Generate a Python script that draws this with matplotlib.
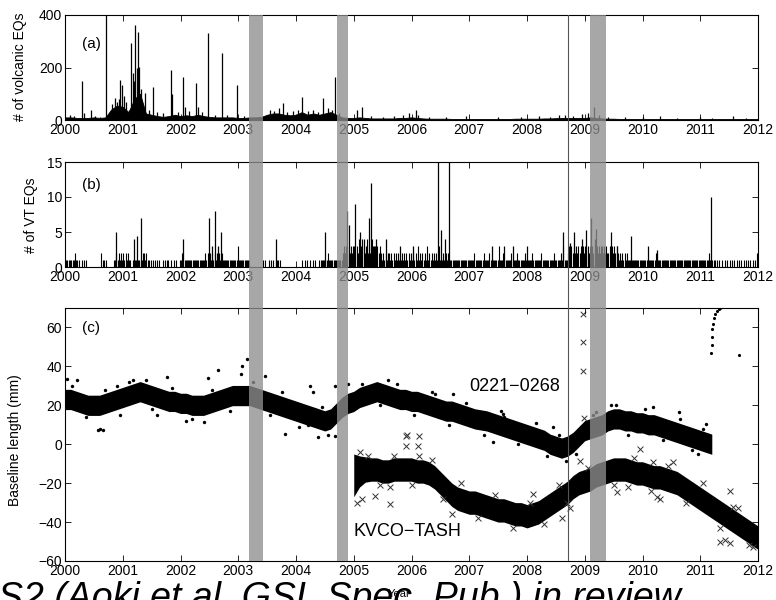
import numpy as np
import matplotlib
matplotlib.use("Agg")
import matplotlib.pyplot as plt

plt.rcParams['font.family'] = ['Liberation Sans', 'DejaVu Sans']
plt.rcParams['axes.linewidth'] = 0.8

# ---------------- data ----------------
YEARS = list(range(2000, 2013))
year_labels = [str(y) for y in YEARS]

shade_start = [2003.19, 2004.71, 2009.09]
shade_end = [2003.43, 2004.90, 2009.37]
event_year = 2008.71

# (a) volcanic earthquakes: background level every 0.1 yr + individual spikes
volc_level_start = 2000.0
volc_level_step = 0.1
volc_level = [10, 10, 8, 8, 8, 10, 8, 10, 40, 55,
              50, 30, 80, 100, 25, 20, 15, 12, 15, 20,
              15, 18, 15, 20, 15, 12, 10, 10, 10, 10,
              8, 8, 10, 10, 12, 20, 25, 25, 20, 18,
              20, 30, 20, 25, 20, 25, 30, 20, 10, 8,
              8, 10, 8, 6, 6, 6, 6, 6, 8, 8,
              10, 8, 6, 5, 5, 5, 5, 4, 4, 4,
              4, 4, 4, 4, 4, 4, 4, 4, 5, 5,
              5, 5, 5, 6, 6, 7, 8, 8, 8, 8,
              8, 10, 8, 6, 5, 5, 4, 4, 4, 4,
              4, 4, 4, 4, 4, 4, 4, 4, 4, 4,
              4, 4, 4, 4, 4, 4, 4, 4, 4, 4,
              4]
volc_spike_t = [2000.08, 2000.15, 2000.29, 2000.33, 2000.45, 2000.52, 2000.60, 2000.71,
                2000.78, 2000.82, 2000.86, 2000.90, 2000.93, 2000.96, 2000.99, 2001.02,
                2001.06, 2001.10, 2001.15, 2001.17, 2001.20, 2001.22, 2001.25, 2001.27,
                2001.29, 2001.31, 2001.34, 2001.39, 2001.45, 2001.52, 2001.60, 2001.70,
                2001.83, 2001.86, 2001.95, 2002.04, 2002.08, 2002.15, 2002.27, 2002.30,
                2002.38, 2002.48, 2002.60, 2002.71, 2002.80, 2002.97, 2003.10, 2003.55,
                2003.62, 2003.70, 2003.77, 2003.85, 2003.95, 2004.03, 2004.10, 2004.20,
                2004.30, 2004.38, 2004.47, 2004.55, 2004.62, 2004.68, 2004.75, 2005.05,
                2005.14, 2005.30, 2005.50, 2005.70, 2005.85, 2005.95, 2006.08, 2006.12,
                2006.30, 2006.60, 2006.95, 2007.50, 2007.90, 2008.20, 2008.40, 2008.55,
                2008.65, 2008.80, 2008.95, 2009.05, 2009.16, 2009.25, 2009.40, 2009.70,
                2010.00, 2010.30, 2010.60, 2011.00, 2011.20, 2011.56, 2011.80]
volc_spike_n = [20, 15, 150, 25, 38, 15, 12, 400,
                30, 60, 82, 70, 80, 152, 133, 90,
                70, 40, 292, 178, 150, 362, 200, 336,
                203, 120, 60, 102, 40, 127, 30, 25,
                190, 100, 30, 165, 50, 35, 140, 50,
                30, 330, 20, 254, 20, 133, 15, 40,
                35, 45, 63, 30, 35, 40, 89, 35,
                40, 30, 82, 45, 40, 165, 25, 38,
                50, 15, 12, 15, 20, 25, 38, 20,
                12, 10, 15, 10, 12, 15, 12, 20,
                18, 15, 22, 25, 50, 20, 12, 10,
                12, 15, 8, 10, 8, 15, 8]

# (b) VT earthquakes: counts in 50 slots per year (2000-2011) + larger spikes
vt_slots_per_year = 50
vt_counts_by_year = [
    "1101111121" "1010101010" "0000000000" "0211010000" "0011212121",  # 2000
    "2121211010" "1111111221" "2110101101" "0100101011" "0100101001",  # 2001
    "1201111111" "1111111111" "1212121212" "1212121111" "1111111113",  # 2002
    "1111111111" "0000000000" "0101001010" "1011101000" "0000000000",  # 2003
    "0000010101" "0010101001" "0111111211" "1111111111" "2323232323",  # 2004
    "3232423432" "3423243332" "3232121212" "2121212121" "1212121212",  # 2005
    "1212131212" "1213121212" "1213111212" "1211111111" "1111111111",  # 2006
    "1111211111" "1121111211" "1111131112" "1111112111" "1211111121",  # 2007
    "1111211111" "1121111111" "1112111112" "1311123232" "3232323232",  # 2008
    "3232323232" "3232323232" "2323232321" "2121212111" "1111111111",  # 2009
    "1111111111" "1211111111" "1111111111" "1111111111" "1111111111",  # 2010
    "1111111211" "1110101010" "0101010101" "0101010101" "0101010102",  # 2011
]
vt_spike_t = [2000.88, 2001.20, 2001.25, 2001.32, 2002.05, 2002.50, 2002.55, 2002.60,
              2002.65, 2002.70, 2003.65, 2004.50, 2004.88, 2004.92, 2005.02, 2005.10,
              2005.18, 2005.26, 2005.30, 2005.38, 2005.55, 2005.80, 2006.02, 2006.46,
              2006.51, 2006.58, 2006.65, 2007.40, 2007.60, 2007.75, 2008.00, 2008.62,
              2008.75, 2008.82, 2008.95, 2009.02, 2009.10, 2009.17, 2009.20, 2009.30,
              2009.45, 2009.55, 2009.80, 2010.10, 2010.25, 2011.19]
vt_spike_n = [5, 4, 4.5, 7, 4, 7, 3, 8,
              3, 5, 4, 5, 8, 6, 9, 5,
              4, 7, 12, 4, 4, 3, 3, 15,
              5.3, 4, 15, 3, 3, 3, 3, 5,
              3.5, 5, 4, 5.3, 7, 4, 5.5, 3,
              5, 3, 4.5, 3, 2.5, 10]

# (c) baseline lengths, every 0.1 yr
bl_a_start = 2000.0
bl_a_center = [23, 23, 22, 21, 20, 20, 20, 21, 22, 23,
               24, 25, 26, 27, 26, 25, 24, 23, 22, 22,
               21, 21, 20, 20, 20, 21, 22, 23, 24, 25,
               25, 25, 25, 24, 23, 22, 21, 20, 19, 18,
               17, 16, 15, 14, 13, 12, 13, 16, 19, 21,
               22, 24, 25, 26, 27, 26, 25, 24, 23, 23,
               22, 22, 21, 20, 19, 18, 17, 17, 16, 15,
               14, 13, 12.5, 12, 11, 10, 9, 8, 7, 6,
               5, 4, 3, 2, 0, -1, -2, -1, 1, 4,
               7, 8, 9, 10, 12, 13, 13, 12, 12, 11,
               11, 10, 10, 9, 8, 7, 6, 5, 4, 3,
               2, 1, 0]
bl_a_half = 5.2
bl_a_out_t = [2000.03, 2000.20, 2000.60, 2000.58, 2000.65, 2001.40, 2001.60, 2001.76,
              2002.40, 2002.47, 2002.65, 2003.05, 2003.07, 2003.15, 2003.46, 2003.81,
              2004.21, 2004.25, 2004.30, 2004.38, 2004.68, 2004.68, 2004.90, 2006.72,
              2007.41, 2007.58, 2007.60, 2008.45, 2008.68, 2009.20, 2009.54, 2010.18,
              2010.63, 2010.96, 2011.10, 2000.90, 2001.10, 2002.10, 2005.60, 2006.40,
              2000.12, 2000.37, 2000.70, 2000.95, 2001.18, 2001.50, 2001.85, 2002.20,
              2002.55, 2002.85, 2003.25, 2003.55, 2003.75, 2004.05, 2004.45, 2004.55,
              2005.15, 2005.45, 2005.75, 2006.05, 2006.35, 2006.65, 2006.95, 2007.25,
              2007.55, 2007.85, 2008.15, 2008.35, 2008.55, 2008.85, 2009.15, 2009.45,
              2009.75, 2010.05, 2010.35, 2010.65, 2010.85, 2011.05]
bl_a_out_y = [33.7, 33, 8, 7.4, 7.4, 33, 15, 34.7,
              11.5, 34, 38, 36, 40, 44, 35, 5.4,
              10, 30, 27, 3.5, 4, 30, 31, 26,
              1.2, 15.7, 14, 9, -8.6, 16.7, 20, 19,
              16.7, -5, 10.5, 30, 32, 12, 33, 26,
              30, 14, 28, 15, 33, 18, 29, 13,
              28, 17, 32, 15, 27, 9, 19, 5,
              31, 20, 31, 15, 27, 10, 21, 5,
              17, 0, 11, -6, 5, -5, 15, 20,
              5, 18, 2, 13, -3, 8]
bl_a_jump_t = [2011.19, 2011.195, 2011.20, 2011.21, 2011.22, 2011.24, 2011.26, 2011.29,
               2011.32, 2011.35, 2011.67]
bl_a_jump_y = [47, 51, 55, 59, 62, 65, 67, 68.5, 69.5, 70, 46]
bl_a_x_t = [2008.97, 2008.97, 2008.97, 2008.99]
bl_a_x_y = [67, 52.6, 37.4, 13.7]

bl_b_start = 2005.0
bl_b_center = [-16, -14, -13, -13, -13, -14, -14, -13, -13, -13,
               -13, -14, -14, -15, -17, -20, -23, -26, -28, -29,
               -30, -30, -31, -32, -33, -34, -34, -35, -36, -36,
               -37, -36, -35, -33, -31, -29, -27, -25, -22, -20,
               -19, -18, -16, -15, -14, -13, -13, -13, -14, -15,
               -15, -16, -17, -17, -18, -19, -20, -22, -24, -26,
               -28, -30, -32, -34, -36, -38, -40, -42, -44, -46,
               -48]
bl_b_half = [11, 8, 6.5, 6, 6, 6, 6, 6, 6, 6,
             6, 6, 6, 6, 6, 6, 6, 6, 6, 6,
             6, 6, 6, 6, 6, 6, 6, 6, 6, 6,
             6, 6, 6, 6, 6, 6, 6, 6, 6, 6,
             6, 6, 6, 6, 6, 6, 6, 6, 6, 6,
             6, 6, 6, 6, 6, 6, 6, 6, 6, 6,
             6, 6, 6, 6, 6, 6, 6, 6, 6, 6,
             6]
bl_b_x_t = [2005.90, 2005.92, 2005.90, 2006.13, 2006.11, 2006.13, 2005.63, 2005.63,
            2005.37, 2005.14, 2006.70, 2008.10, 2008.92, 2009.96, 2010.18, 2010.53,
            2011.52, 2011.57, 2011.34, 2011.43, 2011.52, 2011.92, 2009.55, 2009.75,
            2010.25, 2010.30, 2005.05, 2005.10, 2008.60, 2008.70,
            2005.25, 2005.45, 2005.70, 2006.00, 2006.35, 2006.55, 2006.85, 2007.15,
            2007.45, 2007.75, 2008.05, 2008.30, 2008.55, 2008.75, 2009.05, 2009.50,
            2009.85, 2010.15, 2010.45, 2010.75, 2011.05, 2011.35, 2011.65, 2011.85]
bl_b_x_y = [4, 5, -1, 4, -1, -6, -22, -30.7,
            -26.6, -28, -36, -25.6, -8.5, -2.4, -9, -9,
            -24, -32, -50, -49, -51, -53, -24.5, -22,
            -27, -28, -30, -4, -38, -30,
            -6, -21, -6, -21, -8, -28, -20, -38,
            -26, -43, -30, -41, -21, -33, -12, -21,
            -7, -24, -11, -30, -20, -43, -33, -52]

big_caption = "S2 (Aoki et al. GSL Spec. Pub.) in review"

# ---------------- figure ----------------
fig = plt.figure(figsize=(7.76, 6.0), dpi=100)
W, H = 776.0, 600.0
L, R = 65, 758


def add_ax(top, bottom):
    return fig.add_axes([L / W, 1 - bottom / H, (R - L) / W, (bottom - top) / H])


def style(ax):
    ax.set_xlim(2000, 2012)
    ax.set_xticks(YEARS)
    ax.set_xticklabels(year_labels)
    ax.tick_params(direction='in', top=True, right=True, length=4, width=0.6,
                   labelsize=10, pad=2)


ax_a = add_ax(15, 120)
ax_b = add_ax(162, 267)
ax_c = add_ax(308, 561)
for ax in (ax_a, ax_b, ax_c):
    style(ax)

# (a)
lvl_t = volc_level_start + volc_level_step * np.arange(len(volc_level))
ax_a.fill_between(lvl_t, 0, volc_level, color='black', lw=0.6, edgecolor='black')
ax_a.vlines(volc_spike_t, 0, volc_spike_n, color='black', lw=0.9)
ax_a.set_ylim(0, 400)
ax_a.set_yticks([0, 200, 400])
ax_a.text(2000.29, 290, '(a)', fontsize=11, va='center')

# (b)
for k, s in enumerate(vt_counts_by_year):
    yr = YEARS[k]
    ts, vs = [], []
    for i, ch in enumerate(s):
        v = int(ch)
        if v > 0:
            ts.append(yr + (i + 0.5) / vt_slots_per_year)
            vs.append(v)
    ax_b.vlines(ts, 0, vs, color='black', lw=0.8)
ax_b.vlines(vt_spike_t, 0, vt_spike_n, color='black', lw=0.9)
ax_b.set_ylim(0, 15)
ax_b.set_yticks([0, 5, 10, 15])
ax_b.text(2000.29, 11.7, '(b)', fontsize=11, va='center')

# (c)
ta = bl_a_start + 0.1 * np.arange(len(bl_a_center))
ca = np.array(bl_a_center, dtype=float)
ax_c.fill_between(ta, ca - bl_a_half, ca + bl_a_half, color='black', lw=0)
ax_c.scatter(bl_a_out_t, bl_a_out_y, s=6, color='black', lw=0)
ax_c.scatter(bl_a_jump_t, bl_a_jump_y, s=5, color='black', lw=0)
ax_c.scatter(bl_a_x_t, bl_a_x_y, s=16, marker='x', color='#333333', lw=0.7)

tb = bl_b_start + 0.1 * np.arange(len(bl_b_center))
cb = np.array(bl_b_center, dtype=float)
hb = np.array(bl_b_half, dtype=float)
ax_c.fill_between(tb, cb - hb, cb + hb, color='black', lw=0)
ax_c.scatter(bl_b_x_t, bl_b_x_y, s=18, marker='x', color='#333333', lw=0.7)

ax_c.set_ylim(-60, 70)
ax_c.set_yticks(list(range(-60, 61, 20)))
ax_c.text(2000.29, 59.5, '(c)', fontsize=11, va='center')
ax_c.text(2007.0, 29.6, '0221\u22120268', fontsize=13, va='center')
ax_c.text(2004.99, -45, 'KVCO\u2212TASH', fontsize=13, va='center')

# y labels
fig.text(20 / W, 1 - 67 / H, '# of volcanic EQs', rotation=90, ha='center', va='center', fontsize=10)
fig.text(31 / W, 1 - 215 / H, '# of VT EQs', rotation=90, ha='center', va='center', fontsize=10)
fig.text(15 / W, 1 - 440 / H, 'Baseline length (mm)', rotation=90, ha='center', va='center', fontsize=10)
fig.text(399 / W, 1 - 594 / H, 'Year', ha='center', va='center', fontsize=8)

# shaded periods and event line spanning all panels
ov = fig.add_axes([L / W, 1 - 561 / H, (R - L) / W, (561 - 15) / H])
ov.set_xlim(2000, 2012)
ov.set_ylim(0, 1)
ov.axis('off')
ov.patch.set_alpha(0)
ov.set_zorder(10)
for s0, s1 in zip(shade_start, shade_end):
    ov.axvspan(s0, s1, color='#8f8f8f', alpha=0.78, lw=0)
ov.axvline(event_year, color='#555555', lw=0.8)

# big caption cut off at the bottom edge
fig.text(-2 / W, -9 / H, big_caption, fontsize=27, style='italic', ha='left', va='baseline')

fig.savefig('out.png', dpi=100)
